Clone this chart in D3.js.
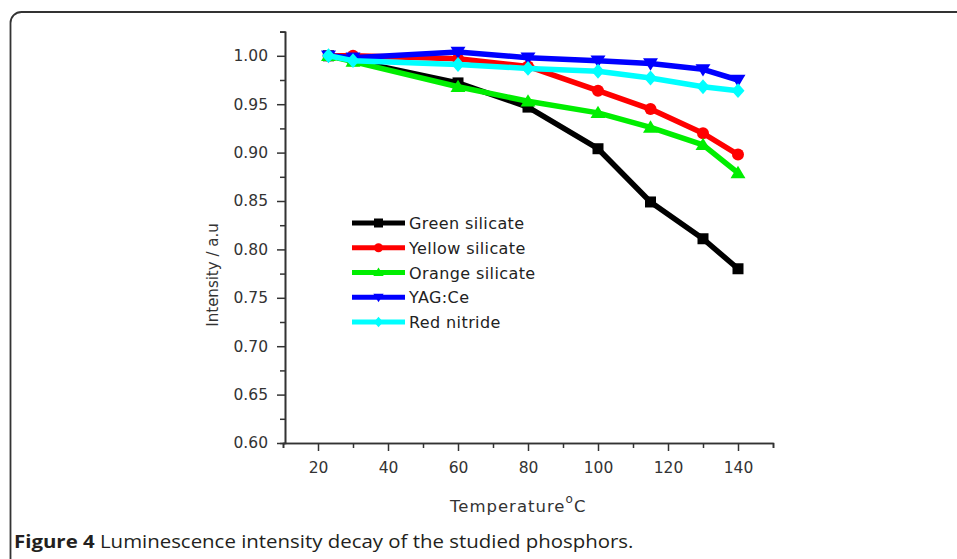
<!DOCTYPE html>
<html><head><meta charset="utf-8">
<script src="https://cdn.jsdelivr.net/npm/d3@7"></script>
<style>body{margin:0;background:#fff}</style>
</head><body>
<svg id="c" width="957" height="559"></svg>
<script>
// ---- data ----
const temps = [23, 30, 60, 80, 100, 115, 130, 140];
const seriesNames = ["Green silicate", "Yellow silicate", "Orange silicate", "YAG:Ce", "Red nitride"];
const greenSilicate  = [1.000, 0.995, 0.972, 0.947, 0.904, 0.849, 0.811, 0.780];
const yellowSilicate = [1.000, 1.000, 0.997, 0.989, 0.964, 0.945, 0.920, 0.898];
const orangeSilicate = [1.000, 0.994, 0.968, 0.953, 0.941, 0.926, 0.908, 0.879];
const yagCe          = [1.000, 0.998, 1.004, 0.998, 0.995, 0.992, 0.986, 0.975];
const redNitride     = [1.000, 0.995, 0.991, 0.987, 0.984, 0.977, 0.968, 0.964];
const xTicks = [20, 40, 60, 80, 100, 120, 140];
const xMinorTicks = [10, 30, 50, 70, 90, 110, 130, 150];
const yTicks = [0.60, 0.65, 0.70, 0.75, 0.80, 0.85, 0.90, 0.95, 1.00];
const yMinorTicks = [0.625, 0.675, 0.725, 0.775, 0.825, 0.875, 0.925, 0.975, 1.025];
const xLabel = "Temperature";
const yLabel = "Intensity / a.u";
const captionBold = "Figure 4";
const captionText = " Luminescence intensity decay of the studied phosphors.";

const allValues = [greenSilicate, yellowSilicate, orangeSilicate, yagCe, redNitride];
const colors = ["#000000", "#ff0000", "#00ee00", "#0000ff", "#00ffff"];
const shapes = ["square", "circle", "triangle", "triangleDown", "diamond"];

const svg = d3.select("#c");

// frame
svg.append("path")
  .attr("d", "M10.5 559 V23 A11 11 0 0 1 21.5 12 H957")
  .attr("fill", "none").attr("stroke", "#333").attr("stroke-width", 1.8);

const x = d3.scaleLinear().domain([10, 150]).range([283, 773]);
const y = d3.scaleLinear().domain([0.6, 1.025]).range([443, 31.6]);

const axisColor = "#333";
const tickFont = "DejaVu Sans";

// minor ticks
const gxm = svg.append("g").attr("transform", "translate(0,443)")
  .call(d3.axisBottom(x).tickValues(xMinorTicks).tickSize(5).tickFormat(""));
const gym = svg.append("g").attr("transform", "translate(285,0)")
  .call(d3.axisLeft(y).tickValues(yMinorTicks).tickSize(5).tickFormat(""));
// major
const gx = svg.append("g").attr("transform", "translate(0,443)")
  .call(d3.axisBottom(x).tickValues(xTicks).tickSize(8).tickSizeOuter(0).tickPadding(11).tickFormat(d3.format("d")));
const gy = svg.append("g").attr("transform", "translate(285,0)")
  .call(d3.axisLeft(y).tickValues(yTicks).tickSize(8).tickSizeOuter(0).tickPadding(9).tickFormat(d3.format(".2f")));

[gxm, gym, gx, gy].forEach(g => {
  g.selectAll("path.domain").attr("stroke", axisColor).attr("stroke-width", 1.6);
  g.selectAll(".tick line").attr("stroke", axisColor).attr("stroke-width", 1.5);
  g.selectAll(".tick text").attr("fill", "#333").attr("font-family", tickFont).attr("font-size", 15.5);
});

// axis titles
svg.append("text")
  .attr("transform", "translate(218,275) rotate(-90)")
  .attr("text-anchor", "middle")
  .attr("font-family", "DejaVu Sans").attr("font-size", 15).attr("fill", "#333")
  .text(yLabel);

const xt = svg.append("text")
  .attr("x", 450).attr("y", 512)
  .attr("font-family", "DejaVu Sans").attr("font-size", 16.5).attr("fill", "#333")
  .attr("letter-spacing", 1);
xt.append("tspan").text(xLabel);
xt.append("tspan").attr("dy", -9).attr("font-size", 12).text("o");
xt.append("tspan").attr("dy", 9).text("C");

// markers
function symbolPath(shape, s) {
  const h = s / 2;
  switch (shape) {
    case "square": return `M${-h},${-h}H${h}V${h}H${-h}Z`;
    case "circle": return d3.symbol(d3.symbolCircle, Math.PI * h * h)();
    case "triangle": return `M0,${-h * 1.1}L${h * 1.15},${h * 0.8}L${-h * 1.15},${h * 0.8}Z`;
    case "triangleDown": return `M0,${h * 1.1}L${h * 1.15},${-h * 0.8}L${-h * 1.15},${-h * 0.8}Z`;
    case "diamond": return `M0,${-h * 1.15}L${h * 1.0},0L0,${h * 1.15}L${-h * 1.0},0Z`;
  }
}
const markerSize = [11, 12, 13, 13, 13];

const line = d3.line().x(d => x(d[0])).y(d => y(d[1]));

allValues.forEach((vals, i) => {
  const pts = temps.map((t, j) => [t, vals[j]]);
  const g = svg.append("g");
  g.append("path").datum(pts).attr("d", line)
    .attr("fill", "none").attr("stroke", colors[i]).attr("stroke-width", 5.5)
    .attr("stroke-linejoin", "round");
  g.selectAll("path.m").data(pts).join("path").attr("class", "m")
    .attr("transform", d => `translate(${x(d[0])},${y(d[1])})`)
    .attr("d", symbolPath(shapes[i], markerSize[i]))
    .attr("fill", colors[i]);
});

// legend
const legY0 = 223, legDy = 24.75;
seriesNames.forEach((name, i) => {
  const ly = legY0 + i * legDy;
  svg.append("line").attr("x1", 352).attr("x2", 405).attr("y1", ly).attr("y2", ly)
    .attr("stroke", colors[i]).attr("stroke-width", 5);
  svg.append("path").attr("transform", `translate(378.5,${ly})`)
    .attr("d", symbolPath(shapes[i], 9)).attr("fill", colors[i]);
  svg.append("text").attr("x", 409).attr("y", ly + 6)
    .attr("font-family", "DejaVu Sans").attr("font-size", 16).attr("fill", "#222")
    .attr("letter-spacing", 0.4)
    .text(name);
});

// caption
const cap = svg.append("text").attr("x", 0).attr("y", 0)
  .attr("font-family", "Open Sans").attr("font-size", 17.5).attr("fill", "#231f20");
cap.append("tspan").attr("font-weight", "bold").text(captionBold);
cap.append("tspan").text(captionText);
const w = cap.node().getComputedTextLength();
cap.attr("transform", `translate(14,548) scale(${620 / w},1)`);
</script>
</body></html>
